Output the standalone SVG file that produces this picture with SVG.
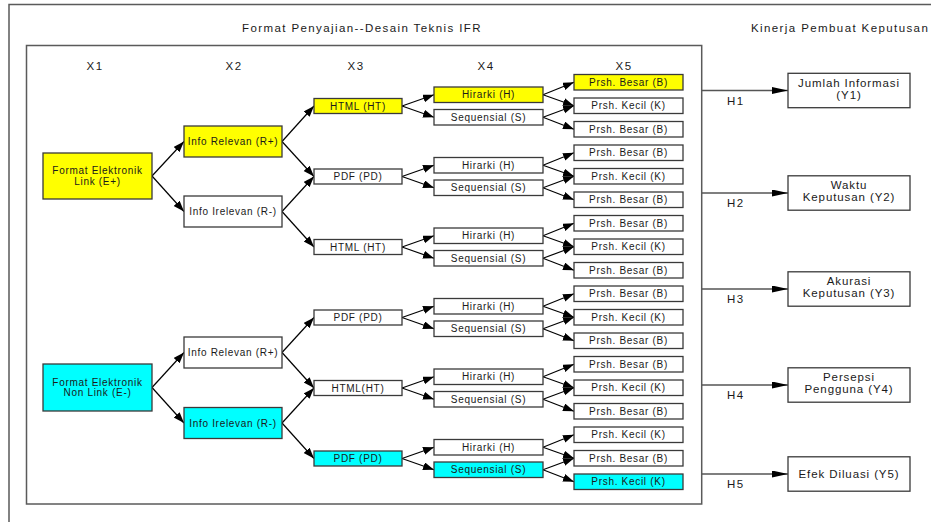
<svg xmlns="http://www.w3.org/2000/svg" width="931" height="522" viewBox="0 0 931 522">
  <style>
    .frame { fill: none; stroke: #5a5a5a; stroke-width: 1.5; }
    .box { fill: #ffffff; stroke: #3a3a3a; stroke-width: 1.3; }
    .yel { fill: #ffff00; }
    .cyn { fill: #00ffff; }
    .t { font-family: "Liberation Sans", Arial, sans-serif; font-size: 10px; letter-spacing: 0.7px; fill: #1a1a1a; text-anchor: middle; }
    .hd { font-family: "Liberation Sans", Arial, sans-serif; font-size: 11.5px; letter-spacing: 1.4px; fill: #1a1a1a; }
    .yt { font-family: "Liberation Sans", Arial, sans-serif; font-size: 11.5px; letter-spacing: 0.9px; fill: #1a1a1a; text-anchor: middle; }
    .lk { stroke: #000; stroke-width: 1.2; fill: none; marker-end: url(#ah); }
    .out { stroke: #555; stroke-width: 1.3; fill: none; marker-end: url(#ahl); }
  </style>
  <defs>
    <marker id="ah" markerUnits="userSpaceOnUse" markerWidth="12" markerHeight="9" refX="11" refY="4" orient="auto">
      <path d="M0,0 L11,4 L0,8 z" fill="#000"/>
    </marker>
    <marker id="ahl" markerUnits="userSpaceOnUse" markerWidth="17" markerHeight="8" refX="16" refY="3.5" orient="auto">
      <path d="M0,0 L16,3.5 L0,7 z" fill="#000"/>
    </marker>
  </defs>

  <!-- frames -->
  <rect class="frame" x="9" y="4.5" width="940" height="530"/>
  <rect class="frame" x="26.5" y="45.5" width="675.2" height="458.5"/>

  <!-- headings -->
  <text class="hd" x="242" y="31.5">Format Penyajian--Desain Teknis IFR</text>
  <text class="hd" x="751" y="31.5">Kinerja Pembuat Keputusan</text>
  <text class="hd" x="95" y="70" text-anchor="middle">X1</text>
  <text class="hd" x="234" y="70" text-anchor="middle">X2</text>
  <text class="hd" x="356" y="70" text-anchor="middle">X3</text>
  <text class="hd" x="486" y="70" text-anchor="middle">X4</text>
  <text class="hd" x="624" y="70" text-anchor="middle">X5</text>

  <!-- connectors -->
  <g id="connectors">
    <!-- X1 to X2 -->
    <line class="lk" x1="152" y1="176" x2="184" y2="141.5"/>
    <line class="lk" x1="152" y1="176" x2="184" y2="211.5"/>
    <line class="lk" x1="152" y1="387.5" x2="184" y2="352.5"/>
    <line class="lk" x1="152" y1="387.5" x2="184" y2="423"/>
    <!-- X2 to X3 -->
    <line class="lk" x1="282" y1="141.5" x2="314" y2="106"/>
    <line class="lk" x1="282" y1="141.5" x2="314" y2="176.5"/>
    <line class="lk" x1="282" y1="211.5" x2="314" y2="176.5"/>
    <line class="lk" x1="282" y1="211.5" x2="314" y2="247"/>
    <line class="lk" x1="282" y1="352.5" x2="314" y2="317.5"/>
    <line class="lk" x1="282" y1="352.5" x2="314" y2="388"/>
    <line class="lk" x1="282" y1="423" x2="314" y2="388"/>
    <line class="lk" x1="282" y1="423" x2="314" y2="458.5"/>
    <!-- X3 to X4 -->
    <line class="lk" x1="402" y1="106" x2="434" y2="94.75"/>
    <line class="lk" x1="402" y1="106" x2="434" y2="117.25"/>
    <line class="lk" x1="402" y1="176.5" x2="434" y2="165.25"/>
    <line class="lk" x1="402" y1="176.5" x2="434" y2="187.75"/>
    <line class="lk" x1="402" y1="247" x2="434" y2="235.75"/>
    <line class="lk" x1="402" y1="247" x2="434" y2="258.25"/>
    <line class="lk" x1="402" y1="317.5" x2="434" y2="306.25"/>
    <line class="lk" x1="402" y1="317.5" x2="434" y2="328.75"/>
    <line class="lk" x1="402" y1="388" x2="434" y2="376.75"/>
    <line class="lk" x1="402" y1="388" x2="434" y2="399.25"/>
    <line class="lk" x1="402" y1="458.5" x2="434" y2="447.25"/>
    <line class="lk" x1="402" y1="458.5" x2="434" y2="469.75"/>
    <!-- X4 to X5 -->
    <line class="lk" x1="543" y1="94.75" x2="574" y2="82.25"/>
    <line class="lk" x1="543" y1="94.75" x2="574" y2="105.75"/>
    <line class="lk" x1="543" y1="117.25" x2="574" y2="105.75"/>
    <line class="lk" x1="543" y1="117.25" x2="574" y2="129.25"/>
    <line class="lk" x1="543" y1="165.25" x2="574" y2="152.75"/>
    <line class="lk" x1="543" y1="165.25" x2="574" y2="176.25"/>
    <line class="lk" x1="543" y1="187.75" x2="574" y2="176.25"/>
    <line class="lk" x1="543" y1="187.75" x2="574" y2="199.75"/>
    <line class="lk" x1="543" y1="235.75" x2="574" y2="223.25"/>
    <line class="lk" x1="543" y1="235.75" x2="574" y2="246.75"/>
    <line class="lk" x1="543" y1="258.25" x2="574" y2="246.75"/>
    <line class="lk" x1="543" y1="258.25" x2="574" y2="270.25"/>
    <line class="lk" x1="543" y1="306.25" x2="574" y2="293.75"/>
    <line class="lk" x1="543" y1="306.25" x2="574" y2="317.25"/>
    <line class="lk" x1="543" y1="328.75" x2="574" y2="317.25"/>
    <line class="lk" x1="543" y1="328.75" x2="574" y2="340.75"/>
    <line class="lk" x1="543" y1="376.75" x2="574" y2="364.25"/>
    <line class="lk" x1="543" y1="376.75" x2="574" y2="387.75"/>
    <line class="lk" x1="543" y1="399.25" x2="574" y2="387.75"/>
    <line class="lk" x1="543" y1="399.25" x2="574" y2="411.25"/>
    <line class="lk" x1="543" y1="447.25" x2="574" y2="434.75"/>
    <line class="lk" x1="543" y1="447.25" x2="574" y2="458.25"/>
    <line class="lk" x1="543" y1="469.75" x2="574" y2="458.25"/>
    <line class="lk" x1="543" y1="469.75" x2="574" y2="481.75"/>
    <!-- frame to outcomes -->
    <line class="out" x1="702" y1="90.5" x2="788" y2="90.5"/>
    <line class="out" x1="702" y1="193" x2="788" y2="193"/>
    <line class="out" x1="702" y1="289" x2="788" y2="289"/>
    <line class="out" x1="702" y1="385" x2="788" y2="385"/>
    <line class="out" x1="702" y1="474" x2="788" y2="474"/>
    <text class="hd" x="727" y="104.5">H1</text>
    <text class="hd" x="727" y="207">H2</text>
    <text class="hd" x="727" y="303">H3</text>
    <text class="hd" x="727" y="399">H4</text>
    <text class="hd" x="727" y="488">H5</text>
  </g>

  <!-- X1 -->
  <g id="x1-link">
    <rect class="box yel" x="43" y="153" width="109" height="46"/>
    <text class="t" x="97.5" y="174.2">Format Elektronik</text>
    <text class="t" x="97.5" y="184.8">Link (E+)</text>
  </g>
  <g id="x1-nonlink">
    <rect class="box cyn" x="43" y="364" width="109" height="47"/>
    <text class="t" x="97.5" y="385.7">Format Elektronik</text>
    <text class="t" x="97.5" y="396.3">Non Link (E-)</text>
  </g>

  <!-- X2 -->
  <g id="x2-relevan-1"><rect class="box yel" x="184" y="126" width="98" height="31"/><text class="t" x="233" y="145">Info Relevan (R+)</text></g>
  <g id="x2-irelevan-1"><rect class="box" x="184" y="196" width="98" height="31"/><text class="t" x="233" y="215">Info Irelevan (R-)</text></g>
  <g id="x2-relevan-2"><rect class="box" x="184" y="337" width="98" height="31"/><text class="t" x="233" y="356">Info Relevan (R+)</text></g>
  <g id="x2-irelevan-2"><rect class="box cyn" x="184" y="407.5" width="98" height="31"/><text class="t" x="233" y="426.5">Info Irelevan (R-)</text></g>

  <!-- X3 -->
  <g id="x3-html-1"><rect class="box yel" x="314" y="98.5" width="88" height="15"/><text class="t" x="358" y="109.5">HTML (HT)</text></g>
  <g id="x3-pdf-1"><rect class="box" x="314" y="169" width="88" height="15"/><text class="t" x="358" y="180">PDF (PD)</text></g>
  <g id="x3-html-2"><rect class="box" x="314" y="239.5" width="88" height="15"/><text class="t" x="358" y="250.5">HTML (HT)</text></g>
  <g id="x3-pdf-2"><rect class="box" x="314" y="310" width="88" height="15"/><text class="t" x="358" y="321">PDF (PD)</text></g>
  <g id="x3-html-3"><rect class="box" x="314" y="380.5" width="88" height="15"/><text class="t" x="358" y="391.5">HTML(HT)</text></g>
  <g id="x3-pdf-3"><rect class="box cyn" x="314" y="451" width="88" height="15"/><text class="t" x="358" y="462">PDF (PD)</text></g>

  <!-- X4 -->
  <g id="x4-hirarki-1"><rect class="box yel" x="434" y="87" width="109" height="15.5"/><text class="t" x="488.5" y="98.3">Hirarki (H)</text></g>
  <g id="x4-seq-1"><rect class="box" x="434" y="109.5" width="109" height="15.5"/><text class="t" x="488.5" y="120.8">Sequensial (S)</text></g>
  <g id="x4-hirarki-2"><rect class="box" x="434" y="157.5" width="109" height="15.5"/><text class="t" x="488.5" y="168.8">Hirarki (H)</text></g>
  <g id="x4-seq-2"><rect class="box" x="434" y="180" width="109" height="15.5"/><text class="t" x="488.5" y="191.3">Sequensial (S)</text></g>
  <g id="x4-hirarki-3"><rect class="box" x="434" y="228" width="109" height="15.5"/><text class="t" x="488.5" y="239.3">Hirarki (H)</text></g>
  <g id="x4-seq-3"><rect class="box" x="434" y="250.5" width="109" height="15.5"/><text class="t" x="488.5" y="261.8">Sequensial (S)</text></g>
  <g id="x4-hirarki-4"><rect class="box" x="434" y="298.5" width="109" height="15.5"/><text class="t" x="488.5" y="309.8">Hirarki (H)</text></g>
  <g id="x4-seq-4"><rect class="box" x="434" y="321" width="109" height="15.5"/><text class="t" x="488.5" y="332.3">Sequensial (S)</text></g>
  <g id="x4-hirarki-5"><rect class="box" x="434" y="369" width="109" height="15.5"/><text class="t" x="488.5" y="380.3">Hirarki (H)</text></g>
  <g id="x4-seq-5"><rect class="box" x="434" y="391.5" width="109" height="15.5"/><text class="t" x="488.5" y="402.8">Sequensial (S)</text></g>
  <g id="x4-hirarki-6"><rect class="box" x="434" y="439.5" width="109" height="15.5"/><text class="t" x="488.5" y="450.8">Hirarki (H)</text></g>
  <g id="x4-seq-6"><rect class="box cyn" x="434" y="462" width="109" height="15.5"/><text class="t" x="488.5" y="473.3">Sequensial (S)</text></g>

  <!-- X5 -->
  <g id="x5-01"><rect class="box yel" x="574" y="74.5" width="109" height="15.5"/><text class="t" x="628.5" y="85.8">Prsh. Besar (B)</text></g>
  <g id="x5-02"><rect class="box" x="574" y="98" width="109" height="15.5"/><text class="t" x="628.5" y="109.3">Prsh. Kecil (K)</text></g>
  <g id="x5-03"><rect class="box" x="574" y="121.5" width="109" height="15.5"/><text class="t" x="628.5" y="132.8">Prsh. Besar (B)</text></g>
  <g id="x5-04"><rect class="box" x="574" y="145" width="109" height="15.5"/><text class="t" x="628.5" y="156.3">Prsh. Besar (B)</text></g>
  <g id="x5-05"><rect class="box" x="574" y="168.5" width="109" height="15.5"/><text class="t" x="628.5" y="179.8">Prsh. Kecil (K)</text></g>
  <g id="x5-06"><rect class="box" x="574" y="192" width="109" height="15.5"/><text class="t" x="628.5" y="203.3">Prsh. Besar (B)</text></g>
  <g id="x5-07"><rect class="box" x="574" y="215.5" width="109" height="15.5"/><text class="t" x="628.5" y="226.8">Prsh. Besar (B)</text></g>
  <g id="x5-08"><rect class="box" x="574" y="239" width="109" height="15.5"/><text class="t" x="628.5" y="250.3">Prsh. Kecil (K)</text></g>
  <g id="x5-09"><rect class="box" x="574" y="262.5" width="109" height="15.5"/><text class="t" x="628.5" y="273.8">Prsh. Besar (B)</text></g>
  <g id="x5-10"><rect class="box" x="574" y="286" width="109" height="15.5"/><text class="t" x="628.5" y="297.3">Prsh. Besar (B)</text></g>
  <g id="x5-11"><rect class="box" x="574" y="309.5" width="109" height="15.5"/><text class="t" x="628.5" y="320.8">Prsh. Kecil (K)</text></g>
  <g id="x5-12"><rect class="box" x="574" y="333" width="109" height="15.5"/><text class="t" x="628.5" y="344.3">Prsh. Besar (B)</text></g>
  <g id="x5-13"><rect class="box" x="574" y="356.5" width="109" height="15.5"/><text class="t" x="628.5" y="367.8">Prsh. Besar (B)</text></g>
  <g id="x5-14"><rect class="box" x="574" y="380" width="109" height="15.5"/><text class="t" x="628.5" y="391.3">Prsh. Kecil (K)</text></g>
  <g id="x5-15"><rect class="box" x="574" y="403.5" width="109" height="15.5"/><text class="t" x="628.5" y="414.8">Prsh. Besar (B)</text></g>
  <g id="x5-16"><rect class="box" x="574" y="427" width="109" height="15.5"/><text class="t" x="628.5" y="438.3">Prsh. Kecil (K)</text></g>
  <g id="x5-17"><rect class="box" x="574" y="450.5" width="109" height="15.5"/><text class="t" x="628.5" y="461.8">Prsh. Besar (B)</text></g>
  <g id="x5-18"><rect class="box cyn" x="574" y="474" width="109" height="15.5"/><text class="t" x="628.5" y="485.3">Prsh. Kecil (K)</text></g>

  <!-- outcomes -->
  <g id="y1"><rect class="box" x="788" y="73.3" width="122" height="34.4"/><text class="yt" x="849" y="86.7">Jumlah Informasi</text><text class="yt" x="849" y="98.7">(Y1)</text></g>
  <g id="y2"><rect class="box" x="788" y="175.8" width="122" height="34.4"/><text class="yt" x="849" y="189.2">Waktu</text><text class="yt" x="849" y="201.2">Keputusan (Y2)</text></g>
  <g id="y3"><rect class="box" x="788" y="271.8" width="122" height="34.4"/><text class="yt" x="849" y="285.2">Akurasi</text><text class="yt" x="849" y="297.2">Keputusan (Y3)</text></g>
  <g id="y4"><rect class="box" x="788" y="367.8" width="122" height="34.4"/><text class="yt" x="849" y="381.2">Persepsi</text><text class="yt" x="849" y="393.2">Pengguna (Y4)</text></g>
  <g id="y5"><rect class="box" x="788" y="456.8" width="122" height="34.4"/><text class="yt" x="849" y="478.3">Efek Diluasi (Y5)</text></g>
</svg>
